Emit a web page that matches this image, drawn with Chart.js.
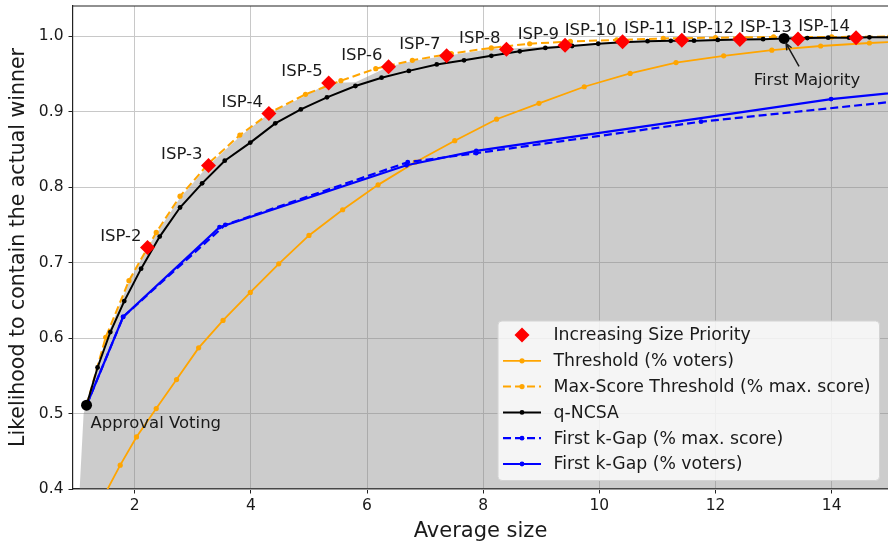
<!DOCTYPE html>
<html>
<head>
<meta charset="utf-8">
<script src="https://cdn.jsdelivr.net/npm/chart.js@4.4.1/dist/chart.umd.min.js"></script>
<style>
  html, body { margin: 0; padding: 0; background: #fff; }
  #wrap { width: 888px; height: 549px; }
</style>
</head>
<body>
<div id="wrap"><canvas id="chart" width="888" height="549"></canvas></div>
<script>
// Values
const xTicks = [2, 4, 6, 8, 10, 12, 14];
const yTicks = [0.4, 0.5, 0.6, 0.7, 0.8, 0.9, 1.0];

const ispLabels = ['ISP-2', 'ISP-3', 'ISP-4', 'ISP-5', 'ISP-6', 'ISP-7', 'ISP-8', 'ISP-9', 'ISP-10', 'ISP-11', 'ISP-12', 'ISP-13', 'ISP-14'];
const ispX = [2.22, 3.27, 4.31, 5.34, 6.37, 7.37, 8.40, 9.41, 10.40, 11.42, 12.42, 13.42, 14.42];
const ispY = [0.720, 0.8285, 0.8977, 0.938, 0.9594, 0.974, 0.9827, 0.988, 0.9925, 0.9947, 0.9955, 0.9962, 0.998];

const thrX = [1.45, 1.75, 2.03, 2.37, 2.72, 3.10, 3.52, 3.99, 4.48, 5.00, 5.58, 6.19, 6.83, 7.51, 8.23, 8.96, 9.74, 10.53, 11.32, 12.14, 12.97, 13.81, 14.65, 15.49];
const thrY = [0.388, 0.4316, 0.469, 0.5066, 0.545, 0.587, 0.6234, 0.6605, 0.6984, 0.736, 0.770, 0.803, 0.833, 0.8615, 0.890, 0.911, 0.933, 0.9507, 0.965, 0.974, 0.9815, 0.987, 0.991, 0.994];

const maxX = [1.17, 1.50, 1.90, 2.37, 2.78, 3.28, 3.81, 4.36, 4.94, 5.55, 6.15, 6.78, 7.45, 8.14, 8.80, 9.50, 10.30, 11.10, 12.00, 13.00, 14.00, 15.00];
const maxY = [0.511, 0.601, 0.676, 0.740, 0.788, 0.832, 0.869, 0.900, 0.923, 0.941, 0.957, 0.968, 0.977, 0.9845, 0.990, 0.993, 0.995, 0.997, 0.998, 0.999, 0.999, 0.9995];

const ncsaX = [1.17, 1.36, 1.58, 1.82, 2.11, 2.43, 2.78, 3.16, 3.55, 3.99, 4.42, 4.86, 5.31, 5.80, 6.25, 6.72, 7.20, 7.67, 8.14, 8.63, 9.07, 9.53, 9.98, 10.40, 10.83, 11.23, 11.63, 12.04, 12.43, 12.82, 13.18, 13.58, 13.94, 14.30, 14.65, 15.01];
const ncsaY = [0.511, 0.561, 0.608, 0.649, 0.692, 0.7345, 0.773, 0.805, 0.835, 0.859, 0.8845, 0.903, 0.919, 0.934, 0.945, 0.954, 0.9626, 0.968, 0.974, 0.980, 0.9845, 0.987, 0.990, 0.992, 0.9934, 0.9938, 0.994, 0.995, 0.9955, 0.996, 0.997, 0.9975, 0.998, 0.998, 0.9985, 0.9986];

const gapMaxX = [1.17, 1.80, 3.56, 6.70, 7.88, 11.75, 16.0];
const gapMaxY = [0.511, 0.628, 0.750, 0.833, 0.845, 0.8867, 0.9207];

const gapVotX = [1.17, 1.80, 3.46, 6.68, 7.88, 13.99, 16.0];
const gapVotY = [0.511, 0.628, 0.747, 0.829, 0.848, 0.9167, 0.932];

// Approval Voting, First Majority
const specialX = [1.17, 13.18];
const specialY = [0.511, 0.997];

// upper envelope of all methods, shaded down to the axis
const hullX = [1.00, 1.12, 1.17, 1.36, 1.50, 1.90, 2.22, 2.37, 2.78, 3.27, 3.81, 4.31, 4.94, 5.34, 5.80, 6.37, 6.78, 7.37, 8.14, 8.40, 9.41, 10.40, 11.42, 12.42, 13.42, 14.42, 15.10];
const hullY = [0.325, 0.500, 0.511, 0.562, 0.598, 0.674, 0.720, 0.738, 0.786, 0.8285, 0.867, 0.8977, 0.921, 0.938, 0.939, 0.9594, 0.967, 0.974, 0.983, 0.9835, 0.988, 0.9925, 0.9947, 0.9955, 0.9962, 0.998, 0.999];

const FONT = "'DejaVu Sans', sans-serif";
const INK = '#1a1a1a';
Chart.defaults.font.family = FONT;
Chart.defaults.color = INK;

const pts = (xs, ys) => xs.map((x, i) => ({ x: x, y: ys[i] }));

function lineSet(label, xs, ys, color, width, dash, radius, order) {
    return {
        label: label,
        data: pts(xs, ys),
        borderColor: color,
        backgroundColor: color,
        pointBackgroundColor: color,
        pointBorderColor: color,
        pointBorderWidth: 0,
        borderWidth: width,
        borderDash: dash,
        pointRadius: radius,
        tension: 0,
        order: order,
        inLegend: true
    };
}

// Legend drawn inside the plot, lower right
const boxLegend = {
    id: 'boxLegend',
    afterDraw(chart) {
        const ctx = chart.ctx;
        const area = chart.chartArea;
        const items = chart.data.datasets.filter(d => d.inLegend);
        const rowH = 25.8;
        ctx.save();
        ctx.font = `17.3px ${FONT}`;
        const textW = Math.max(...items.map(d => ctx.measureText(d.label).width));
        const w = 55.5 + textW + 9;
        const h = 14 + (items.length - 1) * rowH + 16.5;
        const x0 = area.right - 8.5 - w;
        const y0 = area.bottom - 8.5 - h;

        ctx.beginPath();
        ctx.roundRect(x0, y0, w, h, 4);
        ctx.fillStyle = 'rgba(255,255,255,0.8)';
        ctx.fill();
        ctx.strokeStyle = '#d4d4d4';
        ctx.lineWidth = 1;
        ctx.stroke();

        items.forEach((d, i) => {
            const cy = y0 + 14 + i * rowH;
            const mx = x0 + 24;
            if (d.showLine !== false) {
                ctx.beginPath();
                ctx.setLineDash(d.borderDash || []);
                ctx.strokeStyle = d.borderColor;
                ctx.lineWidth = d.borderWidth;
                ctx.moveTo(x0 + 5, cy);
                ctx.lineTo(x0 + 43, cy);
                ctx.stroke();
                ctx.setLineDash([]);
            }
            ctx.fillStyle = d.pointBackgroundColor;
            ctx.beginPath();
            if (d.pointStyle === 'rectRot') {
                const r = d.pointRadius;
                ctx.moveTo(mx, cy - r);
                ctx.lineTo(mx + r, cy);
                ctx.lineTo(mx, cy + r);
                ctx.lineTo(mx - r, cy);
                ctx.closePath();
            } else {
                ctx.arc(mx, cy, d.pointRadius, 0, Math.PI * 2);
            }
            ctx.fill();
            ctx.fillStyle = INK;
            ctx.textAlign = 'left';
            ctx.textBaseline = 'middle';
            ctx.fillText(d.label, x0 + 55.5, cy + 1);
        });
        ctx.restore();
    }
};

// Top spine, ISP labels and the two annotations
const notes = {
    id: 'notes',
    afterDatasetsDraw(chart) {
        const ctx = chart.ctx;
        const area = chart.chartArea;
        const xs = chart.scales.x, ys = chart.scales.y;
        ctx.save();
        ctx.strokeStyle = '#222';
        ctx.lineWidth = 1.2;
        ctx.beginPath();
        ctx.moveTo(area.left, area.top);
        ctx.lineTo(area.right, area.top);
        ctx.stroke();

        ctx.fillStyle = INK;
        ctx.font = `16.5px ${FONT}`;
        ctx.textAlign = 'right';
        ctx.textBaseline = 'middle';
        ispX.forEach((v, i) => {
            ctx.fillText(ispLabels[i], xs.getPixelForValue(v) - 6, ys.getPixelForValue(ispY[i]) - 11);
        });

        // Approval Voting
        const ax = xs.getPixelForValue(specialX[0]), ay = ys.getPixelForValue(specialY[0]);
        ctx.textAlign = 'left';
        ctx.fillText('Approval Voting', ax + 4, ay + 18);

        // First Majority with arrow
        const fx = xs.getPixelForValue(specialX[1]), fy = ys.getPixelForValue(specialY[1]);
        ctx.textAlign = 'center';
        ctx.fillText('First Majority', fx + 23, fy + 42);
        const sx = fx + 15, sy = fy + 28, ex = fx + 2, ey = fy + 5;
        ctx.strokeStyle = INK;
        ctx.lineWidth = 1.5;
        ctx.beginPath();
        ctx.moveTo(sx, sy);
        ctx.lineTo(ex, ey);
        const ang = Math.atan2(ey - sy, ex - sx);
        ctx.moveTo(ex - 7 * Math.cos(ang - 0.4), ey - 7 * Math.sin(ang - 0.4));
        ctx.lineTo(ex, ey);
        ctx.lineTo(ex - 7 * Math.cos(ang + 0.4), ey - 7 * Math.sin(ang + 0.4));
        ctx.stroke();
        ctx.restore();
    }
};

const isp = {
    label: 'Increasing Size Priority',
    data: pts(ispX, ispY),
    showLine: false,
    pointStyle: 'rectRot',
    pointRadius: 7.5,
    pointBackgroundColor: '#ff0000',
    pointBorderColor: '#ff0000',
    pointBorderWidth: 0,
    backgroundColor: '#ff0000',
    order: 0,
    inLegend: true
};

const special = {
    label: 'special',
    data: pts(specialX, specialY),
    showLine: false,
    pointRadius: 5.5,
    pointBackgroundColor: '#000',
    pointBorderColor: '#000',
    pointBorderWidth: 0,
    order: 1
};

const hull = {
    label: 'hull',
    data: pts(hullX, hullY),
    pointRadius: 0,
    borderWidth: 0,
    borderColor: 'rgba(0,0,0,0)',
    backgroundColor: 'rgba(128,128,128,0.4)',
    fill: 'start',
    tension: 0,
    order: 10
};

new Chart(document.getElementById('chart'), {
    type: 'line',
    data: {
        datasets: [
            isp,
            lineSet('Threshold (% voters)', thrX, thrY, '#ffa500', 1.8, [], 2.6, 6),
            lineSet('Max-Score Threshold (% max. score)', maxX, maxY, '#ffa500', 2, [8, 4], 2.6, 3),
            lineSet('q-NCSA', ncsaX, ncsaY, '#000000', 2, [], 2.4, 2),
            lineSet('First k-Gap (% max. score)', gapMaxX, gapMaxY, '#0000ff', 2.2, [8, 4], 2.4, 4),
            lineSet('First k-Gap (% voters)', gapVotX, gapVotY, '#0000ff', 2.2, [], 2.4, 5),
            special,
            hull
        ]
    },
    options: {
        responsive: false,
        animation: false,
        events: [],
        devicePixelRatio: 1,
        layout: { autoPadding: false, padding: { top: 6, right: 0, bottom: 0, left: 0 } },
        plugins: {
            legend: { display: false },
            tooltip: { enabled: false }
        },
        scales: {
            x: {
                type: 'linear',
                min: 0.937,
                max: 14.97,
                afterBuildTicks: s => { s.ticks = xTicks.map(v => ({ value: v })); },
                afterFit: s => { s.height = 60; s.paddingLeft = 0; s.paddingRight = 0; },
                ticks: { font: { size: 15.5 }, color: INK, padding: 3, maxRotation: 0, callback: v => String(v) },
                grid: { color: '#c8c8c8', lineWidth: 1, tickColor: '#222', tickLength: 4.5 },
                border: { color: '#222', width: 1.2 },
                title: { display: true, text: 'Average size', font: { size: 21 }, color: INK, padding: { top: 0, bottom: 4.5 } }
            },
            y: {
                type: 'linear',
                min: 0.4,
                max: 1.04,
                afterBuildTicks: s => { s.ticks = yTicks.map(v => ({ value: v })); },
                afterFit: s => { s.width = 73; s.paddingTop = 0; s.paddingBottom = 0; },
                ticks: { font: { size: 15.5 }, color: INK, padding: 5, callback: v => v.toFixed(1) },
                grid: { color: '#c8c8c8', lineWidth: 1, tickColor: '#222', tickLength: 4.5 },
                border: { color: '#222', width: 1.2 },
                title: { display: true, text: 'Likelihood to contain the actual winner', font: { size: 20.5 }, color: INK, padding: { top: 6, bottom: 0 } }
            }
        }
    },
    plugins: [notes, boxLegend]
});
</script>
</body>
</html>
